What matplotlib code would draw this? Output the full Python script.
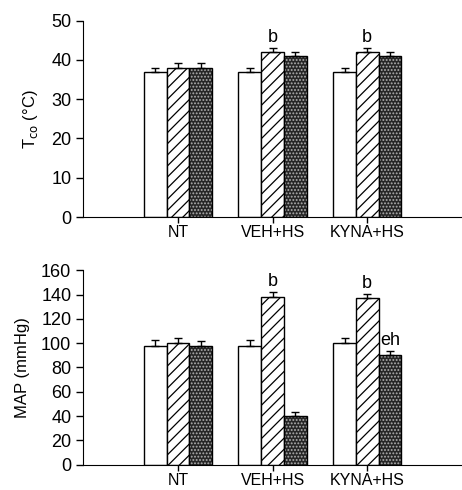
import matplotlib.pyplot as plt
import numpy as np

plt.rcParams['font.family'] = ['Liberation Sans', 'DejaVu Sans']
plt.rcParams['hatch.linewidth'] = 0.9

# data
groups = ['NT', 'VEH+HS', 'KYNA+HS']
tco_white = [37, 37, 37]
tco_hatch = [38, 42, 42]
tco_dots = [38, 41, 41]
tco_white_err = [1, 1, 1]
tco_hatch_err = [1.1, 1, 1]
tco_dots_err = [1.1, 1.1, 1.1]
tco_marks = {(1, 1): 'b', (2, 1): 'b'}

map_white = [98, 98, 100]
map_hatch = [100, 138, 137]
map_dots = [98, 40, 90.5]
map_white_err = [4.5, 4.5, 4]
map_hatch_err = [4, 4, 4]
map_dots_err = [4, 3.5, 3.5]
map_marks = {(1, 1): 'b', (2, 1): 'b', (2, 2): 'eh'}

x = np.arange(len(groups))
w = 0.24


def draw(ax, vals, errs, marks, ymax, step, ylabel, off):
    for k, (v, e) in enumerate(zip(vals, errs)):
        pos = x + (k - 1) * w
        if k == 0:
            ax.bar(pos, v, w, color='white', edgecolor='black', lw=1, zorder=2)
        elif k == 1:
            ax.bar(pos, v, w, color='white', edgecolor='black', hatch='///', lw=1, zorder=2)
        else:
            ax.bar(pos, v, w, color='#262626', edgecolor='#b0b0b0', hatch='.....', lw=0, zorder=2)
            ax.bar(pos, v, w, color='none', edgecolor='black', lw=1, zorder=3)
        ax.errorbar(pos, v, yerr=[np.zeros(len(v)), e], fmt='none', ecolor='black',
                    elinewidth=1, capsize=3, capthick=1, zorder=4)
        for i in range(len(v)):
            if (i, k) in marks:
                ax.text(pos[i], v[i] + e[i] + off, marks[(i, k)], ha='center', va='bottom', fontsize=13)
    ax.set_xlim(-1, 3)
    ax.set_ylim(0, ymax)
    ax.set_yticks(np.arange(0, ymax + 1, step))
    ax.set_xticks(x)
    ax.set_xticklabels(groups)
    ax.spines['top'].set_visible(False)
    ax.spines['right'].set_visible(False)
    ax.tick_params(axis='y', labelsize=13, length=5, width=1)
    ax.tick_params(axis='x', labelsize=11.5, length=4, width=1, pad=2)
    ax.set_ylabel(ylabel, fontsize=12, labelpad=8)


fig = plt.figure(figsize=(4.62, 4.90), dpi=100)
ax1 = fig.add_axes([0.18, 0.557, 0.82, 0.401])
ax2 = fig.add_axes([0.18, 0.052, 0.82, 0.396])

draw(ax1, [tco_white, tco_hatch, tco_dots], [tco_white_err, tco_hatch_err, tco_dots_err],
     tco_marks, 50, 10, 'T$_{\\mathrm{co}}$ (°C)', 0.5)
draw(ax2, [map_white, map_hatch, map_dots], [map_white_err, map_hatch_err, map_dots_err],
     map_marks, 160, 20, 'MAP (mmHg)', 1.5)

fig.savefig('out.png', dpi=100)
